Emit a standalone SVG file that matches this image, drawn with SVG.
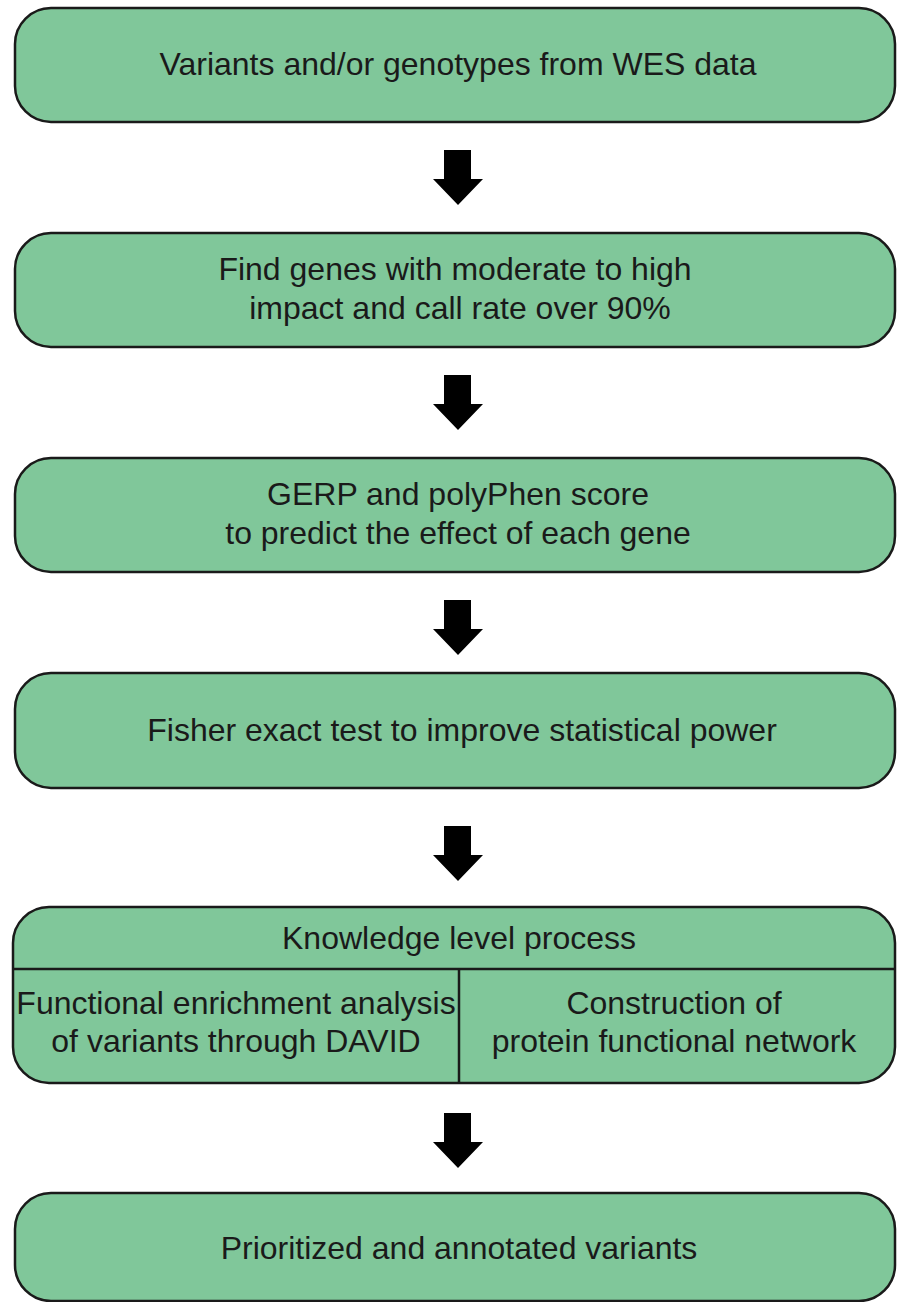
<svg xmlns="http://www.w3.org/2000/svg" width="897" height="1302" viewBox="0 0 897 1302">
  <style>
    .box { fill: #80c79a; stroke: #1a1a1a; stroke-width: 2.5; }
    .div { stroke: #1a1a1a; stroke-width: 2.5; fill: none; }
    .lbl { font-family: "Liberation Sans", Arial, sans-serif; font-size: 32px; fill: #1a1a1a; text-anchor: middle; }
    .arrow { fill: #000; }
  </style>
  <defs>
    <!-- block arrow, tip at origin -->
    <path id="down" class="arrow" d="M-14,-55 H13 V-26 H25 L0,0 L-25,-26 H-14 Z"/>
  </defs>

  <g id="connectors">
    <use href="#down" x="458" y="205"/>
    <use href="#down" x="458" y="430"/>
    <use href="#down" x="458" y="655"/>
    <use href="#down" x="458" y="881"/>
    <use href="#down" x="458" y="1168"/>
  </g>

  <g id="n1">
    <rect class="box" x="15" y="8" width="880" height="114" rx="36"/>
    <text class="lbl" x="458" y="75">Variants and/or genotypes from WES data</text>
  </g>

  <g id="n2">
    <rect class="box" x="15" y="233" width="880" height="114" rx="36"/>
    <text class="lbl" x="455" y="280">Find genes with moderate to high</text>
    <text class="lbl" x="460" y="319">impact and call rate over 90%</text>
  </g>

  <g id="n3">
    <rect class="box" x="15" y="458" width="880" height="114" rx="36"/>
    <text class="lbl" x="458" y="505">GERP and polyPhen score</text>
    <text class="lbl" x="458" y="544">to predict the effect of each gene</text>
  </g>

  <g id="n4">
    <rect class="box" x="15" y="673" width="880" height="115" rx="36"/>
    <text class="lbl" x="462" y="741">Fisher exact test to improve statistical power</text>
  </g>

  <g id="n5">
    <rect class="box" x="13" y="907" width="882" height="176" rx="36"/>
    <line class="div" x1="13" y1="969" x2="895" y2="969"/>
    <line class="div" x1="459" y1="969" x2="459" y2="1083"/>
    <text class="lbl" x="459" y="949">Knowledge level process</text>
    <text class="lbl" x="236" y="1014">Functional enrichment analysis</text>
    <text class="lbl" x="236" y="1052">of variants through DAVID</text>
    <text class="lbl" x="674" y="1014">Construction of</text>
    <text class="lbl" x="674" y="1052">protein functional network</text>
  </g>

  <g id="n6">
    <rect class="box" x="15" y="1193" width="880" height="108" rx="36"/>
    <text class="lbl" x="459" y="1259">Prioritized and annotated variants</text>
  </g>
</svg>
